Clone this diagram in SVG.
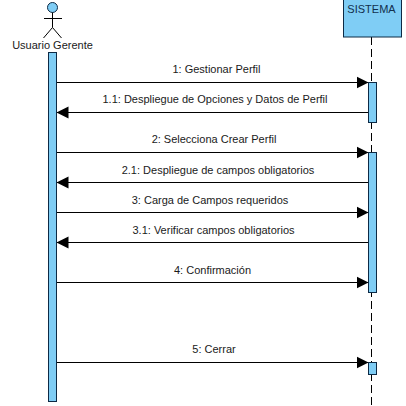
<svg xmlns="http://www.w3.org/2000/svg" width="406" height="406" viewBox="0 0 406 406">
<style>
text{font-family:"Liberation Sans",Arial,sans-serif;font-size:11px;fill:#1a1a1a;text-anchor:middle}
.box{fill:#7fcdf5;stroke:#0d2a45;stroke-width:1}
.msg{stroke:#000;stroke-width:1;fill:none}
.ll{stroke:#000;stroke-width:1;stroke-dasharray:8 4;fill:none}
</style>
<defs>
<marker id="head" markerUnits="userSpaceOnUse" markerWidth="13" markerHeight="13" refX="12" refY="6.5" orient="auto"><path d="M0 0.5L12 6.5L0 12.5Z" fill="#000"/></marker>
</defs>
<rect width="406" height="406" fill="#fff"/>
<g id="connectors">
<path class="ll" d="M371.5 37V406"/>
<path class="msg" marker-end="url(#head)" d="M56.5 82.5H368.5"/>
<path class="msg" marker-end="url(#head)" d="M368.5 112.5H56.5"/>
<path class="msg" marker-end="url(#head)" d="M56.5 152.5H368.5"/>
<path class="msg" marker-end="url(#head)" d="M368.5 182.5H56.5"/>
<path class="msg" marker-end="url(#head)" d="M56.5 212.5H368.5"/>
<path class="msg" marker-end="url(#head)" d="M368.5 242.5H56.5"/>
<path class="msg" marker-end="url(#head)" d="M56.5 282.5H368.5"/>
<path class="msg" marker-end="url(#head)" d="M56.5 362.5H368.5"/>
</g>
<g id="usuario-gerente">
<circle cx="52.5" cy="7.5" r="5" class="box"/>
<path d="M52.5 12.5V27.5M44 18.5H62M52.5 27.5L43.5 38M52.5 27.5L61.5 38" stroke="#000" stroke-width="1" fill="none"/>
<text x="52.5" y="49">Usuario Gerente</text>
<rect class="box" x="48.5" y="52.5" width="8" height="349"/>
</g>
<g id="sistema">
<rect class="box" x="343.5" y="-1" width="58" height="38"/>
<text x="371.5" y="13" style="fill:#12304d">SISTEMA</text>
<rect class="box" x="368.5" y="82.5" width="8" height="40"/>
<rect class="box" x="368.5" y="152.5" width="8" height="140"/>
<rect class="box" x="368.5" y="362.5" width="8" height="12"/>
</g>
<g id="labels">
<text x="216.5" y="73">1: Gestionar Perfil</text>
<text x="215" y="103">1.1: Despliegue de Opciones y Datos de Perfil</text>
<text x="214" y="143">2: Selecciona Crear Perfil</text>
<text x="218" y="174">2.1: Despliegue de campos obligatorios</text>
<text x="210" y="204">3: Carga de Campos requeridos</text>
<text x="213.5" y="234">3.1: Verificar campos obligatorios</text>
<text x="212.5" y="274">4: Confirmación</text>
<text x="214" y="353">5: Cerrar</text>
</g>
</svg>
